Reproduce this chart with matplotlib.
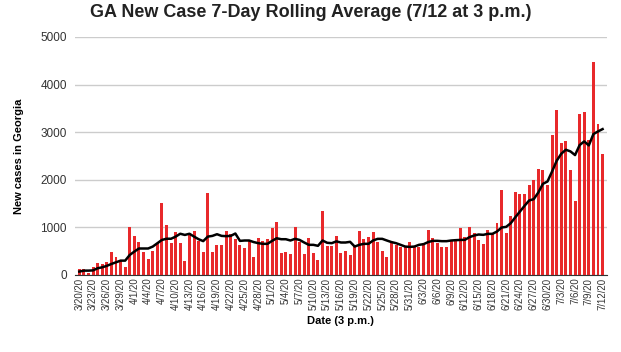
import datetime
import matplotlib
matplotlib.use("Agg")
import matplotlib.pyplot as plt

# daily new cases, 3/20/20 .. 7/12/20
casos = [120, 120, 40, 160, 245, 225, 275, 477, 372, 288,
         161, 1003, 821, 702, 477, 330, 498, 667, 1502, 1046,
         681, 905, 681, 288, 835, 919, 723, 477, 1726, 477,
         632, 632, 919, 870, 758, 632, 555, 709, 372, 779,
         723, 758, 982, 1109, 470, 491, 449, 1003, 702, 449,
         779, 470, 309, 1333, 611, 611, 814, 470, 498, 428,
         632, 919, 758, 800, 905, 695, 512, 386, 667, 632,
         596, 582, 695, 611, 596, 667, 947, 772, 681, 596,
         596, 723, 723, 989, 793, 1003, 891, 737, 653, 947,
         863, 1087, 1781, 891, 1241, 1746, 1704, 1704, 1893, 1992,
         2223, 2202, 1879, 2938, 3471, 2770, 2812, 2202, 1543, 3387,
         3415, 2840, 4481, 3177, 2532]

# 7-day rolling average as drawn
media7 = [70, 90, 90, 95, 140, 160, 190, 230, 265, 300,
          300, 420, 490, 555, 555, 555, 595, 665, 735, 760,
          760, 805, 865, 840, 865, 805, 750, 710, 805, 820,
          855, 820, 814, 820, 870, 715, 723, 723, 690, 667,
          653, 653, 715, 770, 750, 750, 723, 758, 735, 681,
          632, 632, 611, 723, 675, 667, 705, 681, 681, 695,
          596, 632, 653, 653, 723, 758, 758, 723, 690, 667,
          632, 596, 589, 596, 632, 646, 690, 716, 716, 709,
          709, 723, 730, 735, 737, 793, 828, 849, 842, 863,
          863, 912, 996, 1010, 1087, 1213, 1332, 1452, 1564, 1592,
          1732, 1914, 1963, 2174, 2398, 2546, 2630, 2595, 2518, 2728,
          2805, 2721, 2959, 3015, 3064]

inicio = datetime.date(2020, 3, 20)
datas = [inicio + datetime.timedelta(days=i) for i in range(len(casos))]
rotulos = ["{}/{}/20".format(d.month, d.day) for d in datas]

plt.rcParams['font.family'] = ['Liberation Sans', 'DejaVu Sans']

fig = plt.figure(figsize=(6.21, 3.52), dpi=100)
ax = fig.add_axes([0.121, 0.219, 0.856, 0.676])

x = list(range(len(casos)))
ax.bar(x, casos, width=0.65, color='#e8292b', zorder=2)
ax.plot(x, media7, color='black', linewidth=1.8, zorder=3)

ax.set_xlim(-0.9, len(casos) - 0.1)
ax.set_ylim(0, 5000)
ax.set_yticks([0, 1000, 2000, 3000, 4000, 5000])
ax.set_xticks(x[::3])
ax.set_xticklabels(rotulos[::3], rotation=90, fontsize=6.9, color='#333333')
ax.tick_params(axis='y', labelsize=8.5, colors='#333333', length=0, pad=6)
ax.tick_params(axis='x', length=0, pad=2)

ax.grid(axis='y', color='#cccccc', linewidth=1, zorder=0)
for lado in ['top', 'right', 'left']:
    ax.spines[lado].set_visible(False)
ax.spines['bottom'].set_color('#333333')
ax.spines['bottom'].set_zorder(4)

ax.set_ylabel("New cases in Georgia", fontsize=8, fontweight='bold', labelpad=12)
# x label placed just under the tick labels
fig.text(0.549, 0.088, "Date (3 p.m.)", ha='center', va='center',
         fontsize=8, fontweight='bold')
fig.text(0.5, 0.965, "GA New Case 7-Day Rolling Average (7/12 at 3 p.m.)",
         ha='center', va='center', fontsize=13, fontweight='bold', color='#222222')

fig.savefig("out.png", dpi=100)
